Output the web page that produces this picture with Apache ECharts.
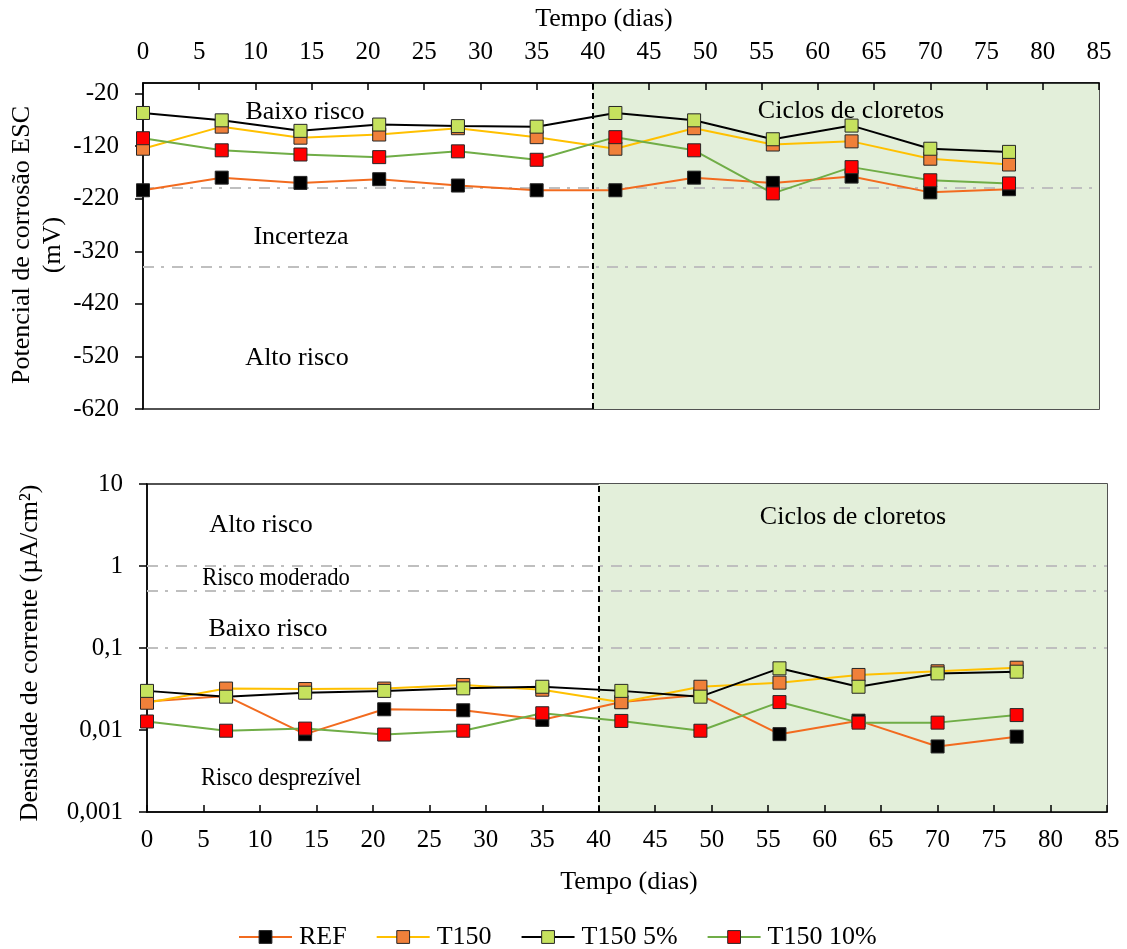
<!DOCTYPE html>
<html><head><meta charset="utf-8">
<script src="https://cdn.jsdelivr.net/npm/echarts@6/dist/echarts.min.js"></script>
<style>html,body{margin:0;padding:0;background:#fff}#c{width:1127px;height:949px}</style>
</head><body><div id="c"></div>
<script>
// ---- data ----
const days = [0, 7, 14, 21, 28, 35, 42, 49, 56, 63, 70, 77];
const seriesNames = ['REF', 'T150', 'T150 5%', 'T150 10%'];
// corrosion potential (mV, ESC)
const potREF    = [-204, -180, -190, -183, -195, -204, -204, -180, -190, -178, -208, -202];
const potT150   = [-125, -83, -104, -98, -86, -103, -125, -86, -117, -111, -144, -155];
const potT150_5 = [-57, -71, -91, -79, -82, -83, -57, -71, -107, -81, -125, -131];
const potT150_10= [-105, -128, -136, -141, -130, -146, -103, -128, -210, -160, -185, -191];
// current density (uA/cm2)
const curREF    = [0.0222, 0.026, 0.0089, 0.0179, 0.0174, 0.0133, 0.022, 0.0267, 0.0089, 0.013, 0.0063, 0.0083];
const curT150   = [0.0215, 0.032, 0.0316, 0.032, 0.0354, 0.031, 0.0218, 0.0337, 0.0378, 0.0469, 0.052, 0.0575];
const curT150_5 = [0.030, 0.0255, 0.0285, 0.030, 0.0322, 0.0337, 0.030, 0.0255, 0.0565, 0.0337, 0.049, 0.0514];
const curT150_10= [0.0127, 0.0098, 0.0104, 0.0088, 0.0098, 0.016, 0.0129, 0.0098, 0.0219, 0.0123, 0.0123, 0.0152];
// ticks
const potTickValues = [-620, -520, -420, -320, -220, -120, -20];
const potTickLabels = ['-620', '-520', '-420', '-320', '-220', '-120', '-20'];
const curTickLabels = ['0,001', '0,01', '0,1', '1', '10'];
// thresholds / regions
const potThresholds = [-200, -350];
const curThresholds = [1, 0.5, 0.1];
const chlorideStart = 40;
const chlorideEnd = 85;

// ---- styles ----
const FONT = 'Liberation Serif';
const lineColors = ['#f26b1f', '#ffc000', '#000000', '#70ad47'];
const markerColors = ['#000000', '#f0803a', '#c6e25e', '#ff0000'];
const potData = [potREF, potT150, potT150_5, potT150_10];
const curData = [curREF, curT150, curT150_5, curT150_10];

function mkSeries(arrs, xi, yi) {
  return arrs.map((arr, k) => ({
    name: seriesNames[k], type: 'line', xAxisIndex: xi, yAxisIndex: yi,
    data: days.map((d, i) => [d, arr[i]]),
    symbol: 'rect', symbolSize: 13, showAllSymbol: true,
    lineStyle: { color: lineColors[k], width: 2 },
    itemStyle: { color: markerColors[k], borderColor: '#262626', borderWidth: 1 },
    z: 2 + k * 0.01
  }));
}
const grayLine = { color: '#bfbfbf', width: 2, type: [11, 7, 3, 8] };
function decoSeries(xi, yi, thresholds) {
  return [{
    type: 'line', xAxisIndex: xi, yAxisIndex: yi, data: [], silent: true,
    markArea: { silent: true, z: 0, itemStyle: { color: '#e3efda' },
      data: [[{ xAxis: chlorideStart }, { xAxis: chlorideEnd }]] },
    markLine: { silent: true, z: 1, symbol: 'none', label: { show: false }, animation: false,
      data: thresholds.map(v => ({ yAxis: v, lineStyle: grayLine }))
        .concat([{ xAxis: chlorideStart, lineStyle: { color: '#000', width: 2, type: [6, 4] } }]) }
  }];
}
const tickFont = { fontFamily: FONT, fontSize: 25, color: '#000' };
const axisLine = { show: true, lineStyle: { color: '#000', width: 1.5 } };
function txt(text, x, y, sx) {
  return { type: 'text', z: 10, x: x, y: y, scaleX: sx || 1,
    style: { text: text, x: 0, y: 0, align: 'center', verticalAlign: 'middle', font: `26px "${FONT}"`, fill: '#000' } };
}
function vtxt(text, x, y) {
  return { type: 'text', z: 10, x: x, y: y, rotation: Math.PI / 2, style: { text: text, x: 0, y: 0, align: 'center', verticalAlign: 'middle', font: `26px "${FONT}"`, fill: '#000' } };
}

const option = {
  animation: false,
  backgroundColor: '#fff',
  grid: [
    { left: 143, top: 83, width: 956, height: 326, show: true, borderColor: '#1a1a1a', borderWidth: 1.5, backgroundColor: 'transparent' },
    { left: 147, top: 484, width: 960, height: 328, show: true, borderColor: '#1a1a1a', borderWidth: 1.5, backgroundColor: 'transparent' }
  ],
  xAxis: [
    { type: 'value', gridIndex: 0, position: 'top', min: 0, max: 85, interval: 5,
      axisLine: axisLine, axisTick: { inside: true, length: 7, lineStyle: { color: '#000', width: 1.5 } },
      axisLabel: Object.assign({ margin: 18 }, tickFont), splitLine: { show: false } },
    { type: 'value', gridIndex: 1, position: 'bottom', min: 0, max: 85, interval: 5,
      axisLine: axisLine, axisTick: { inside: true, length: 7, lineStyle: { color: '#000', width: 1.5 } },
      axisLabel: Object.assign({ margin: 16 }, tickFont), splitLine: { show: false } }
  ],
  yAxis: [
    { type: 'value', gridIndex: 0, min: -620, max: 0,
      axisLine: axisLine,
      axisTick: { length: 8, customValues: potTickValues, lineStyle: { color: '#000', width: 1.5 } },
      axisLabel: Object.assign({ margin: 24, customValues: potTickValues,
        formatter: v => { const i = potTickValues.indexOf(Math.round(v)); return i >= 0 ? potTickLabels[i] : ''; } }, tickFont),
      splitLine: { show: false } },
    { type: 'log', logBase: 10, gridIndex: 1, min: 0.001, max: 10,
      axisLine: axisLine,
      axisTick: { length: 8, lineStyle: { color: '#000', width: 1.5 } },
      axisLabel: Object.assign({ margin: 24,
        formatter: v => { const i = Math.round(Math.log10(v)) + 3; return curTickLabels[i] !== undefined ? curTickLabels[i] : ''; } }, tickFont),
      splitLine: { show: false }, minorTick: { show: false } }
  ],
  legend: {
    left: 233, top: 919, itemWidth: 53, itemHeight: 16, itemGap: 29,
    textStyle: { fontFamily: FONT, fontSize: 26, color: '#000', padding: [0, 0, 0, 2] },
    data: seriesNames.map((n, k) => ({
      name: n,
      itemStyle: { color: markerColors[k], borderColor: '#262626', borderWidth: 1 },
      lineStyle: { color: lineColors[k], width: 2 }
    }))
  },
  graphic: [
    txt('Tempo (dias)', 604, 19),
    txt('Tempo (dias)', 629, 882),
    vtxt('Potencial de corrosão ESC', 22, 245),
    vtxt('(mV)', 53, 245),
    vtxt('Densidade de corrente (µA/cm²)', 30, 653),
    txt('Baixo risco', 305, 112),
    txt('Incerteza', 301, 237),
    txt('Alto risco', 297, 358),
    txt('Ciclos de cloretos', 851, 111),
    txt('Alto risco', 261, 525),
    txt('Risco moderado', 276, 578, 0.87),
    txt('Baixo risco', 268, 629),
    txt('Risco desprezível', 281, 778, 0.87),
    txt('Ciclos de cloretos', 853, 517)
  ],
  series: [].concat(
    decoSeries(0, 0, potThresholds),
    decoSeries(1, 1, curThresholds),
    mkSeries(potData, 0, 0),
    mkSeries(curData, 1, 1)
  )
};
const chart = echarts.init(document.getElementById('c'), null, { renderer: 'canvas' });
chart.setOption(option);
</script></body></html>
